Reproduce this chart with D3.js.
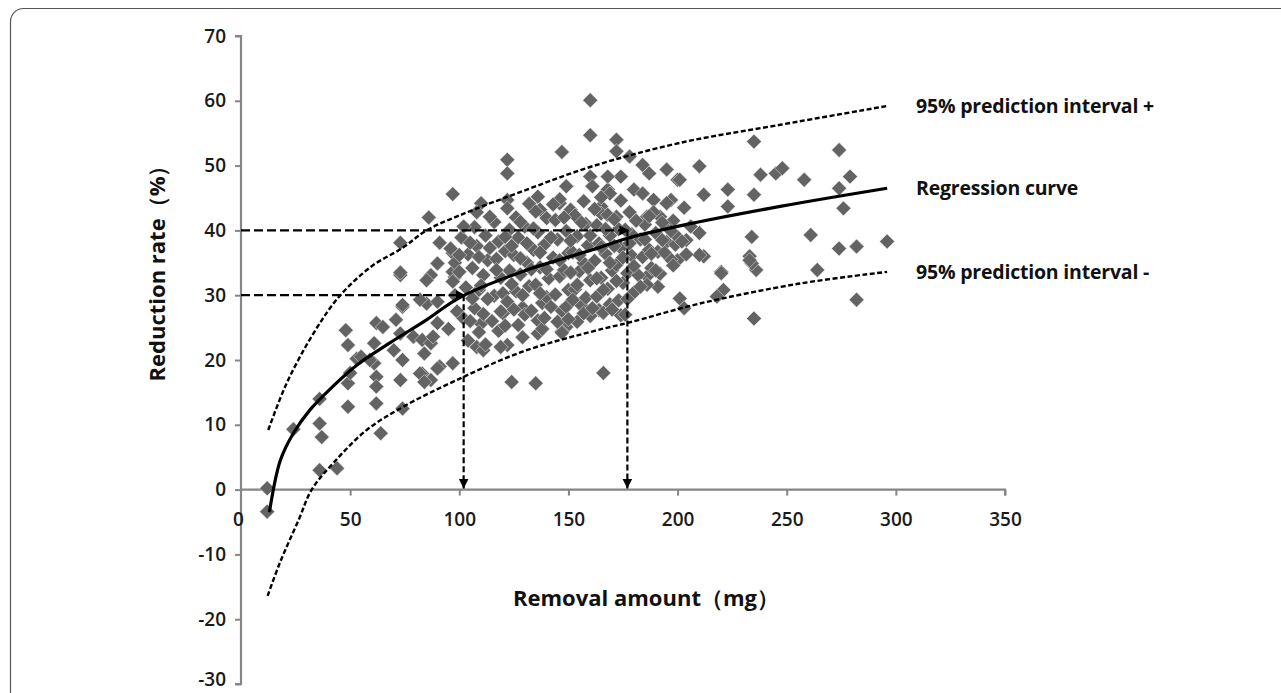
<!DOCTYPE html>
<html>
<head>
<meta charset="utf-8">
<script src="https://cdn.jsdelivr.net/npm/d3@7"></script>
<style>
  html, body { margin: 0; padding: 0; background: #fff; }
  svg { display: block; }
</style>
</head>
<body>
<svg id="chart" width="1281" height="693"></svg>
<script>
// ---------------- DATA ----------------
const xTicks = [0, 50, 100, 150, 200, 250, 300, 350];
const yTicks = [-30, -20, -10, 0, 10, 20, 30, 40, 50, 60, 70];

// scatter: [removal amount (mg), reduction rate (%)]
const scatterPoints = [
  [12,0.2],[12,-3.4],[24,9.3],[36,14],[36,10.2],[37,8.1],[36,3],[44,3.3],
  [48,24.6],[49,22.3],[49,16.4],[49,12.8],[53,20.2],[50,18],[62,25.7],[65,25.1],
  [61,22.6],[61,19.5],[62,17.4],[62,15.9],[62,13.3],[64,8.7],[74,28.2],[73,24.1],
  [70,21.5],[74,20],[73,16.9],[74,12.5],[79,23.6],[83,23.1],[83,17.9],[87,16.9],
  [85,28.7],[90,25.7],[91,19],[97,19.5],[84,21],[87,22.6],[73,33.1],[74,28.5],
  [87,33.1],[98,32.8],[82,29.3],[90,29],[71,26.2],[88,23.6],[90,18.7],[82,17.9],
  [84,16.6],[59,20],[55,20.5],[108,22],[111,21.5],[122,22.3],[124,16.6],[135,16.4],
  [136,24.1],[149,25.1],[166,18],[147,24.4],[164,27.7],[174,26.9],
  [97,45.6],[86,42],[73,38.1],[73,33.5],[91,38.1],[97,36.5],[90,34.9],[85,32.3],[97,33.6],
  [160,60.1],[160,54.7],[172,54],[172,52.2],[147,52.1],[122,50.9],[122,48.8],[178,51.4],
  [184,50.1],[187,48.8],[195,49.4],[200,47.8],[180,46.3],[174,48.3],[160,48.3],[161,46.8],
  [168,46.3],[149,46.8],[136,45.2],[146,44.2],[151,43.2],[110,44.2],[122,44.7],[165,43.7],
  [172,42.1],[189,44.7],[197,44.7],[192,42.1],[186,42.1],[137,43.2],[184,45.7],[195,44.2],
  [169,45.7],[168,48.3],[165,42.6],
  [235,53.7],[274,52.4],[210,49.9],[238,48.6],[245,48.8],[248,49.6],[258,47.8],[279,48.3],
  [274,46.5],[276,43.4],[212,45.5],[223,46.3],[235,45.5],[223,43.7],[201,47.8],[234,39],
  [261,39.3],[274,37.2],[282,37.5],[296,38.3],[210,39.6],[212,36],[204,38.5],[233,36],
  [236,33.9],[234,34.9],[220,33.6],[264,33.9],[221,30.8],[218,29.8],[282,29.3],[235,26.4],
  [201,29.5],[203,28],[191,31.3],[186,32.9],[210,36.2],[200,35.4],[233,35.4],[220,33.4],
  // dense cluster
  [96,37.2],[98,35.0],[97,32.1],[99,27.5],[95,24.8],[101,38.9],[100,33.6],[102,26.4],[103,31.2],[104,36.3],[104,23.0],
  [107,40.5],[108,37.6],[106,34.2],[109,30.8],[107,28.0],[110,25.6],[111,33.1],[112,39.2],[108,42.8],[111,27.1],[113,35.4],[112,22.4],[110,31.5],
  [116,41.3],[118,38.3],[117,35.6],[119,32.7],[116,29.9],[120,27.2],[118,24.5],[121,36.8],[122,43.4],[123,40.1],[120,30.3],[123,33.8],[121,25.3],[119,22.0],
  [126,42.0],[127,38.9],[125,36.2],[128,33.2],[126,30.6],[129,28.1],[127,25.4],[130,40.6],[131,35.0],[132,31.4],[130,27.0],[132,44.1],[129,23.5],
  [135,42.9],[136,39.7],[134,37.0],[137,34.3],[135,31.6],[138,28.8],[136,26.1],[139,37.8],[140,41.9],[141,32.6],[140,29.7],[138,24.8],
  [144,41.6],[145,38.6],[143,35.8],[146,32.9],[144,30.1],[147,27.6],[149,39.9],[150,36.5],[148,33.9],[150,30.8],[149,28.2],[147,24.2],[146,44.8],
  [153,42.3],[154,39.1],[152,36.6],[155,33.7],[153,30.9],[156,28.4],[154,25.9],[158,41.0],[159,37.7],[157,35.0],[160,32.3],[158,29.6],[160,26.8],[157,44.5],
  [163,40.8],[164,38.0],[162,35.3],[165,32.7],[163,29.8],[166,27.3],[168,42.4],[169,39.2],[167,36.4],[170,33.8],[168,31.0],[169,28.6],[165,45.1],
  [173,40.2],[174,37.3],[172,34.7],[175,31.9],[173,29.2],[176,27.0],[178,42.8],[179,36.1],[177,33.4],[180,30.4],[179,39.4],[174,44.6],
  [183,38.6],[184,35.9],[182,33.1],[185,40.9],[187,37.0],[188,34.2],[186,31.6],[190,39.6],[191,36.7],[189,42.8],[192,33.3],
  [195,38.2],[196,40.7],[197,35.5],[199,37.8],[198,41.5],[200,39.0],[194,36.6],
  [98,30.0],[100,36.2],[102,40.6],[105,26.0],[105,38.1],[106,29.5],[109,35.9],[109,24.3],[113,29.4],[114,37.3],
  [114,42.1],[115,26.0],[117,33.9],[119,27.5],[121,39.0],[122,29.0],[124,37.6],[124,31.7],[125,27.8],[128,35.7],
  [128,41.3],[129,30.0],[131,38.0],[133,27.6],[133,34.0],[134,40.3],[137,30.3],[137,36.6],[139,26.5],[140,34.0],
  [142,38.9],[142,28.2],[143,44.0],[145,25.9],[146,35.4],[148,42.0],[150,26.3],[151,33.5],[151,38.4],[152,29.3],
  [154,31.6],[155,36.2],[156,41.2],[157,27.2],[159,34.2],[160,39.2],[161,28.0],[162,43.3],[163,32.6],[165,37.4],
  [166,30.8],[167,40.2],[169,35.0],[170,27.8],[171,37.6],[171,41.7],[172,32.2],[175,35.8],[176,40.1],[177,29.4],
  [178,38.0],[180,34.5],[181,41.5],[183,31.3],[185,38.6],[187,42.2],[188,36.4],[190,33.8],[193,38.5],[193,41.2],
  [197,39.9],[198,34.6],[202,38.3],[204,36.3],[206,40.6],[203,43.5]
];

// curves
const regressionCurve = [[13,-3.5],[18,4.5],[24,8.7],[31.6,12.3],[42,15.9],[53,19.2],[68,22.6],[85,26.2],[100,29.6],[131,33.9],[161,37],[177,38.8],[201,40.7],[247,43.7],[296,46.5]];
const upperInterval = [[12.5,9.2],[20.9,16.4],[33,24],[45,29.8],[60,34.5],[74,37.3],[85,40],[100,42.3],[131,46.3],[161,49.9],[201,53.5],[247,56.3],[296,59.2]];
const lowerInterval = [[12.2,-16.4],[17.8,-11.3],[26.5,-4.6],[32.4,0],[42,4],[57.6,9.2],[74.4,12.8],[98.8,16.9],[129,21.3],[162,24.5],[178,25.8],[210,28.7],[256,31.8],[296,33.6]];

// guide arrows: [removal amount, reduction rate]
const guides = [[102, 30], [177, 40]];

const curveLabels = [
  {text: "95% prediction interval +", y: 59.2},
  {text: "Regression curve", y: 46.5},
  {text: "95% prediction interval -", y: 33.6}
];

// ---------------- CHART ----------------
const svg = d3.select("#chart");

// frame
svg.append("rect")
  .attr("x", 10.5).attr("y", 8.5).attr("width", 1400).attr("height", 900)
  .attr("rx", 13).attr("fill", "none").attr("stroke", "#555").attr("stroke-width", 1.2);

const x = d3.scaleLinear().domain([0, 350]).range([241, 1005]);
const y = d3.scaleLinear().domain([-30, 70]).range([684, 36]);

const axisColor = "#858585";
const tickFont = "'Open Sans', 'DejaVu Sans', sans-serif";
const labelFont = "'Open Sans', 'DejaVu Sans', sans-serif";

// defs: arrowheads
const defs = svg.append("defs");
defs.append("marker").attr("id", "arrow").attr("viewBox", "0 0 10 10")
  .attr("refX", 10).attr("refY", 5).attr("markerWidth", 10).attr("markerHeight", 11)
  .attr("markerUnits", "userSpaceOnUse").attr("orient", "auto")
  .append("path").attr("d", "M0,0 L10,5 L0,10 Z").attr("fill", "#000");

// Y axis
const yAxis = d3.axisLeft(y).tickValues(yTicks).tickSize(6).tickPadding(9).tickFormat(d => String(d));
const gy = svg.append("g").attr("transform", `translate(${x(0)},0)`).call(yAxis);
gy.select(".domain").attr("stroke", axisColor).attr("stroke-width", 2.2)
  .attr("d", `M-6,${y(70)}H0V${y(-30)}H-6`);
gy.selectAll(".tick line").attr("stroke", axisColor).attr("stroke-width", 2);
gy.selectAll(".tick text").attr("font-family", tickFont).attr("font-size", 19)
  .attr("font-weight", 600).attr("fill", "#1a1a1a");
gy.selectAll(".tick").filter(d => d === -30).select("text").attr("dy", "0.1em");

// X axis at y = 0
const xAxis = d3.axisBottom(x).tickValues(xTicks).tickSize(6).tickPadding(17).tickFormat(d => String(d));
const gx = svg.append("g").attr("transform", `translate(0,${y(0)})`).call(xAxis);
gx.select(".domain").attr("stroke", axisColor).attr("stroke-width", 2.2)
  .attr("d", `M${x(0)},0H${x(350)}V6`);
gx.selectAll(".tick line").attr("stroke", axisColor).attr("stroke-width", 2);
gx.selectAll(".tick").filter(d => d === 0).select("line").remove();
gx.selectAll(".tick text").attr("font-family", tickFont).attr("font-size", 19)
  .attr("font-weight", 600).attr("fill", "#1a1a1a");
gx.selectAll(".tick").filter(d => d === 0).select("text").attr("dx", -3);

// scatter diamonds
const diamond = d3.symbol().type(d3.symbolSquare).size(112);
svg.append("g").selectAll("path").data(scatterPoints).join("path")
  .attr("d", diamond)
  .attr("transform", d => `translate(${x(d[0])},${y(d[1])}) rotate(45)`)
  .attr("fill", "#636363")
  .attr("stroke", "#eeeeee").attr("stroke-width", 0.5);

// guide lines
const gGuides = svg.append("g");
guides.forEach(([gxv, gyv]) => {
  gGuides.append("line")
    .attr("x1", x(0)).attr("y1", y(gyv)).attr("x2", x(gxv) + 2).attr("y2", y(gyv))
    .attr("stroke", "#000").attr("stroke-width", 2.2).attr("stroke-dasharray", "9,4")
    .attr("marker-end", "url(#arrow)");
  gGuides.append("line")
    .attr("x1", x(gxv)).attr("y1", y(gyv)).attr("x2", x(gxv)).attr("y2", y(0) - 1)
    .attr("stroke", "#000").attr("stroke-width", 2.2).attr("stroke-dasharray", "6,3")
    .attr("marker-end", "url(#arrow)");
});

// curves
const line = d3.line().x(d => x(d[0])).y(d => y(d[1])).curve(d3.curveCatmullRom.alpha(0.5));
svg.append("path").datum(upperInterval).attr("d", line)
  .attr("fill", "none").attr("stroke", "#000").attr("stroke-width", 2.4).attr("stroke-dasharray", "5,2.5");
svg.append("path").datum(lowerInterval).attr("d", line)
  .attr("fill", "none").attr("stroke", "#000").attr("stroke-width", 2.4).attr("stroke-dasharray", "5,2.5");
svg.append("path").datum(regressionCurve).attr("d", line)
  .attr("fill", "none").attr("stroke", "#000").attr("stroke-width", 3.2);

// curve labels
svg.append("g").selectAll("text").data(curveLabels).join("text")
  .attr("x", 916).attr("y", d => y(d.y) + 7)
  .attr("font-family", labelFont).attr("font-size", 19.5).attr("font-weight", 700)
  .attr("letter-spacing", -0.2)
  .attr("fill", "#111").text(d => d.text);

// axis titles
svg.append("text")
  .attr("transform", `translate(165,268) rotate(-90)`)
  .attr("text-anchor", "middle")
  .attr("font-family", labelFont).attr("font-size", 22).attr("font-weight", 700)
  .attr("fill", "#111").text("Reduction rate（%）");
svg.append("text")
  .attr("x", 646).attr("y", 606).attr("text-anchor", "middle")
  .attr("font-family", labelFont).attr("font-size", 22).attr("font-weight", 700)
  .attr("fill", "#111").text("Removal amount（mg）");
</script>
</body>
</html>
